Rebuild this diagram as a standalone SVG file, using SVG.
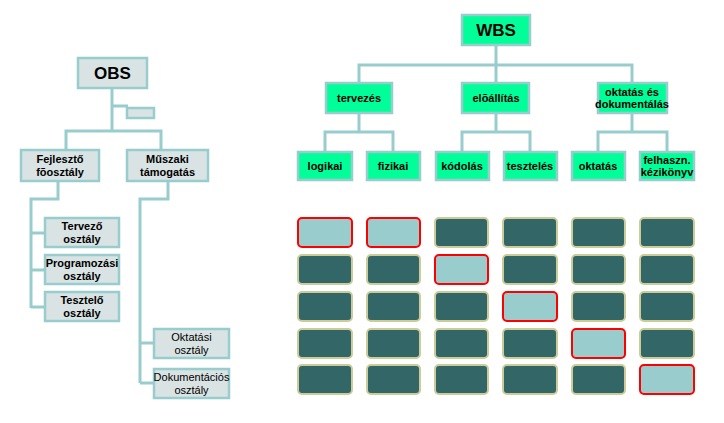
<svg xmlns="http://www.w3.org/2000/svg" width="724" height="423" viewBox="0 0 724 423">
<style>
.c{fill:none;stroke:#99cccc;stroke-width:3}
.o{fill:#d9e3e3;stroke:#99cccc;stroke-width:2.5}
.w{fill:#00ff99;stroke:#99cccc;stroke-width:2.5}
.d{fill:#336666;stroke:#cccc99;stroke-width:2}
.h{fill:#99cccc;stroke:#ff0000;stroke-width:2}
text{font-family:"Liberation Sans",Arial,sans-serif;font-size:11px;font-weight:bold;fill:#000;text-anchor:middle}
.big{font-size:17px}
.n{font-weight:normal}
</style>
<rect width="724" height="423" fill="#fff"/>
<g id="connectors">
<path class="c" d="M112,88V131M112,106H128M66,150V131H161V150"/>
<path class="c" d="M58,181V199H31V308M31,233H45M31,270H45M31,307H45"/>
<path class="c" d="M168,181V199H140V383M140,343H154M140,383H154"/>
<path class="c" d="M496,45V65M359,83V65H632V83M496,65V83"/>
<path class="c" d="M359,113V132M325,152V132H393V152"/>
<path class="c" d="M496,113V132M462,152V132H530V152"/>
<path class="c" d="M632,113V132M598,152V132H667V152"/>
</g>
<g id="obs"><rect class="o" x="78" y="58" width="69" height="30"/><text class="big" x="112.5" y="79">OBS</text></g>
<g id="obs-blank"><rect class="o" x="127" y="108" width="27" height="10"/></g>
<g id="fejleszto"><rect class="o" x="21" y="150" width="78" height="31"/><text x="60" y="163">Fejlesztő</text><text x="60" y="176">fõosztály</text></g>
<g id="muszaki"><rect class="o" x="127" y="150" width="81" height="31"/><text x="167.5" y="163">Műszaki</text><text x="167.5" y="176">támogatás</text></g>
<g id="tervezo"><rect class="o" x="45" y="218" width="74" height="29"/><text x="82" y="230">Tervező</text><text x="82" y="243">osztály</text></g>
<g id="programozasi"><rect class="o" x="45" y="255" width="74" height="29"/><text x="82" y="267">Programozási</text><text x="82" y="280">osztály</text></g>
<g id="teszelo"><rect class="o" x="45" y="292" width="74" height="29"/><text x="82" y="304">Tesztelő</text><text x="82" y="317">osztály</text></g>
<g id="oktatasi"><rect class="o" x="154" y="329" width="75" height="29"/><text class="n" x="191.5" y="341">Oktatási</text><text class="n" x="191.5" y="354">osztály</text></g>
<g id="dokumentacios"><rect class="o" x="154" y="369" width="75" height="29"/><text class="n" x="191.5" y="381">Dokumentációs</text><text class="n" x="191.5" y="394">osztály</text></g>
<g id="wbs"><rect class="w" x="462" y="15" width="68" height="30"/><text class="big" x="496" y="36">WBS</text></g>
<g id="tervezes"><rect class="w" x="326" y="83" width="66" height="30"/><text x="359" y="102">tervezés</text></g>
<g id="eloallitas"><rect class="w" x="462" y="83" width="67" height="30"/><text x="496" y="102">elõállítás</text></g>
<g id="oktatas-dok"><rect class="w" x="598" y="83" width="69" height="30"/><text x="632" y="96">oktatás és</text><text x="632" y="108">dokumentálás</text></g>
<g id="logikai"><rect class="w" x="298" y="152" width="54" height="28"/><text x="325" y="170">logikai</text></g>
<g id="fizikai"><rect class="w" x="367" y="152" width="53" height="28"/><text x="393" y="170">fizikai</text></g>
<g id="kodolas"><rect class="w" x="436" y="152" width="53" height="28"/><text x="462" y="170">kódolás</text></g>
<g id="teszteles"><rect class="w" x="504" y="152" width="53" height="28"/><text x="530" y="170">tesztelés</text></g>
<g id="oktatas"><rect class="w" x="572" y="152" width="53" height="28"/><text x="598" y="170">oktatás</text></g>
<g id="felhaszn"><rect class="w" x="640" y="152" width="54" height="28"/><text x="667" y="164">felhaszn.</text><text x="667" y="176">kézikönyv</text></g>
<g id="matrix">
<rect class="h" x="298" y="218" width="54" height="29" rx="4"/>
<rect class="h" x="367" y="218" width="53" height="29" rx="4"/>
<rect class="d" x="435" y="218" width="53" height="29" rx="4"/>
<rect class="d" x="503" y="218" width="54" height="29" rx="4"/>
<rect class="d" x="572" y="218" width="53" height="29" rx="4"/>
<rect class="d" x="640" y="218" width="54" height="29" rx="4"/>
<rect class="d" x="298" y="255" width="54" height="29" rx="4"/>
<rect class="d" x="367" y="255" width="53" height="29" rx="4"/>
<rect class="h" x="435" y="255" width="53" height="29" rx="4"/>
<rect class="d" x="503" y="255" width="54" height="29" rx="4"/>
<rect class="d" x="572" y="255" width="53" height="29" rx="4"/>
<rect class="d" x="640" y="255" width="54" height="29" rx="4"/>
<rect class="d" x="298" y="292" width="54" height="29" rx="4"/>
<rect class="d" x="367" y="292" width="53" height="29" rx="4"/>
<rect class="d" x="435" y="292" width="53" height="29" rx="4"/>
<rect class="h" x="503" y="292" width="54" height="29" rx="4"/>
<rect class="d" x="572" y="292" width="53" height="29" rx="4"/>
<rect class="d" x="640" y="292" width="54" height="29" rx="4"/>
<rect class="d" x="298" y="329" width="54" height="29" rx="4"/>
<rect class="d" x="367" y="329" width="53" height="29" rx="4"/>
<rect class="d" x="435" y="329" width="53" height="29" rx="4"/>
<rect class="d" x="503" y="329" width="54" height="29" rx="4"/>
<rect class="h" x="572" y="329" width="53" height="29" rx="4"/>
<rect class="d" x="640" y="329" width="54" height="29" rx="4"/>
<rect class="d" x="298" y="365" width="54" height="29" rx="4"/>
<rect class="d" x="367" y="365" width="53" height="29" rx="4"/>
<rect class="d" x="435" y="365" width="53" height="29" rx="4"/>
<rect class="d" x="503" y="365" width="54" height="29" rx="4"/>
<rect class="d" x="572" y="365" width="53" height="29" rx="4"/>
<rect class="h" x="640" y="365" width="54" height="29" rx="4"/>
</g>
</svg>
